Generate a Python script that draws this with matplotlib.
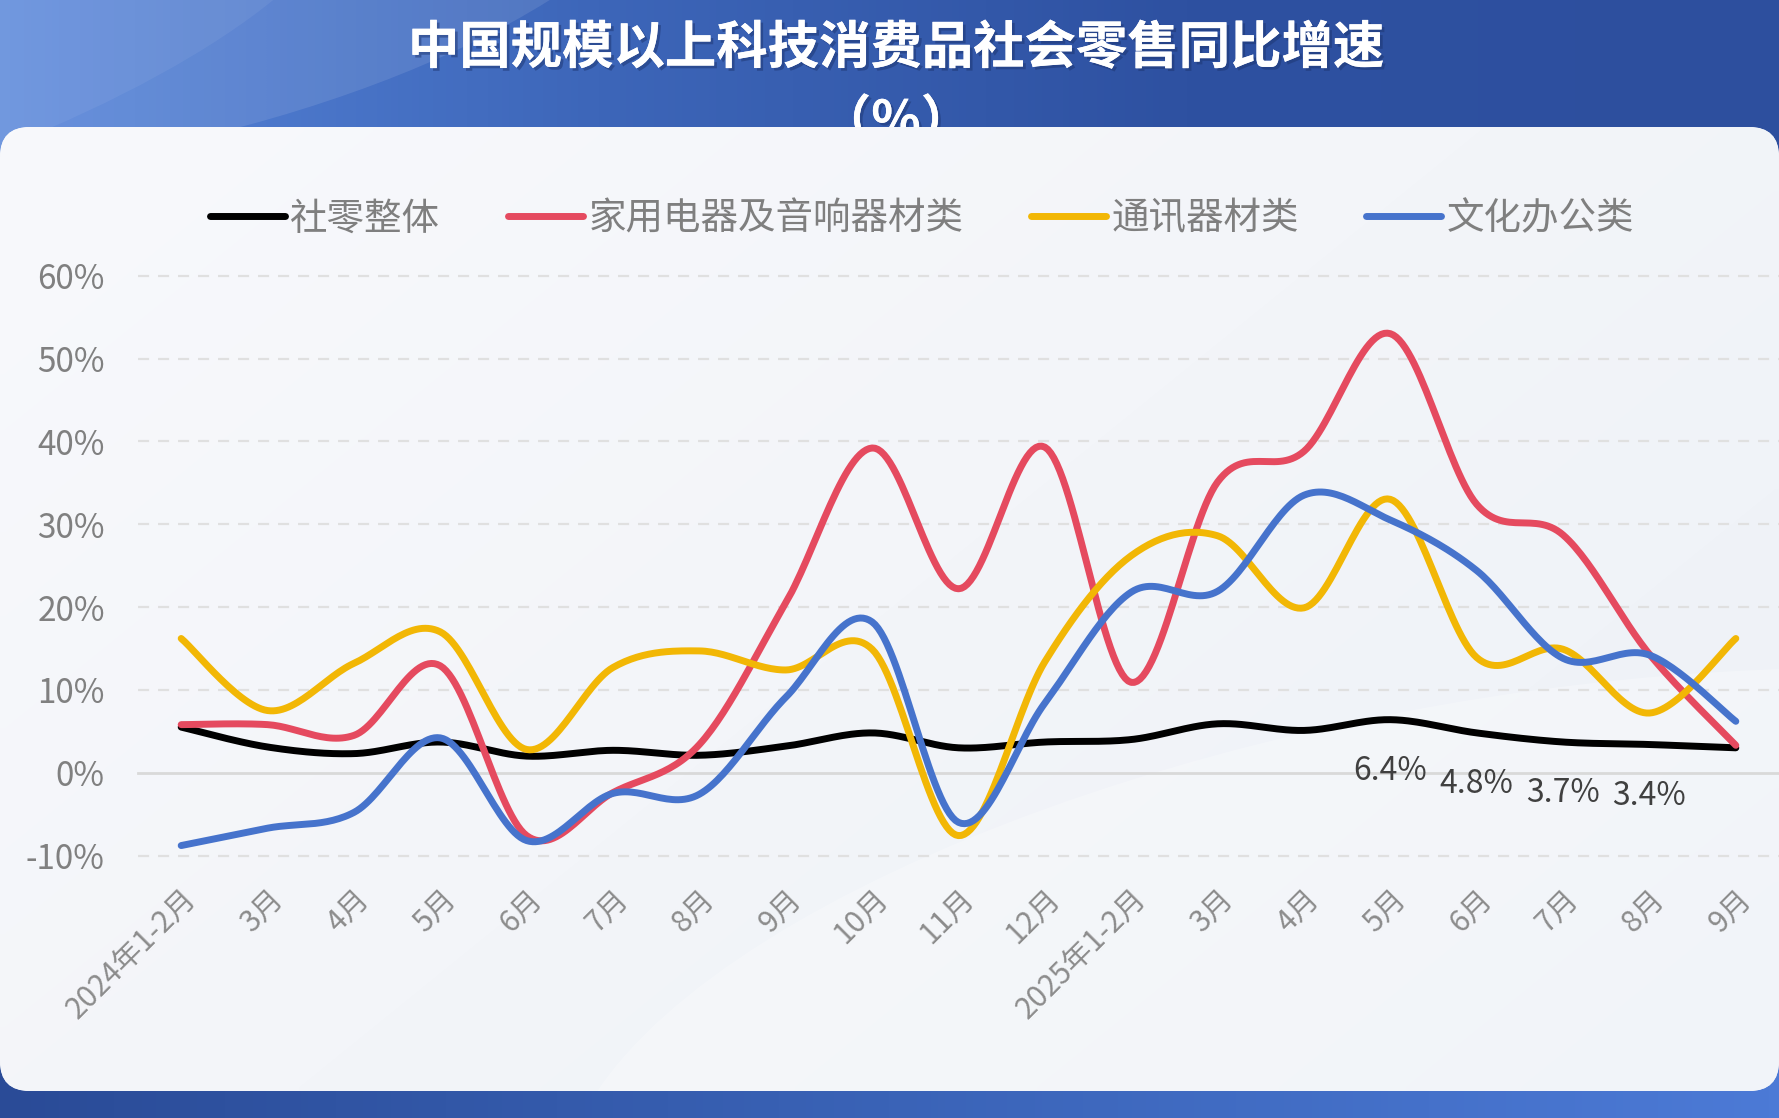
import numpy as np
import matplotlib.pyplot as plt
from matplotlib.patches import FancyBboxPatch, Ellipse
from matplotlib.colors import LinearSegmentedColormap
import matplotlib.patheffects as pe

plt.rcParams['font.family'] = ['Noto Sans CJK SC', 'DejaVu Sans']

# data (% yoy)
months = ['2024年1-2月', '3月', '4月', '5月', '6月', '7月', '8月', '9月', '10月',
          '11月', '12月', '2025年1-2月', '3月', '4月', '5月', '6月', '7月', '8月', '9月']
retail_total = [5.5, 3.1, 2.3, 3.7, 2.0, 2.7, 2.1, 3.2, 4.8, 3.0, 3.7,
                4.0, 5.9, 5.1, 6.4, 4.8, 3.7, 3.4, 3.0]
appliances = [5.8, 5.8, 4.5, 12.9, -7.6, -2.4, 3.4, 20.5, 39.2, 22.2, 39.3,
              10.9, 35.1, 38.8, 53.0, 32.4, 28.7, 14.3, 3.3]
telecom = [16.2, 7.5, 13.2, 17.0, 2.8, 12.7, 14.7, 12.4, 14.9, -7.6, 13.4,
           26.2, 28.6, 19.9, 33.0, 13.9, 14.9, 7.2, 16.2]
office = [-8.8, -6.7, -4.8, 4.2, -8.2, -2.5, -2.6, 9.1, 18.2, -6.0, 8.4,
          21.8, 21.9, 33.5, 30.5, 24.4, 13.8, 14.2, 6.2]
series_names = ['社零整体', '家用电器及音响器材类', '通讯器材类', '文化办公类']
series_colors = ['#000000', '#e54a5f', '#f2b705', '#4673cc']
labeled = [14, 15, 16, 17]  # points of 社零整体 that carry a value label

title = '中国规模以上科技消费品社会零售同比增速'
subtitle = '（%）'


def smooth(y, n=30):
    """Excel-like smoothed line (Catmull-Rom bezier)."""
    x = np.arange(len(y), dtype=float)
    y = np.asarray(y, dtype=float)
    P = np.column_stack([x, y])
    out = []
    t = np.linspace(0, 1, n)[:, None]
    for i in range(len(P) - 1):
        p0 = P[i - 1] if i > 0 else P[i]
        p3 = P[i + 2] if i + 2 < len(P) else P[i + 1]
        c1 = P[i] + (P[i + 1] - p0) / 6
        c2 = P[i + 1] - (p3 - P[i]) / 6
        seg = ((1 - t) ** 3) * P[i] + 3 * ((1 - t) ** 2) * t * c1 \
            + 3 * (1 - t) * t ** 2 * c2 + t ** 3 * P[i + 1]
        out.append(seg if i == 0 else seg[1:])
    out = np.vstack(out)
    return out[:, 0], out[:, 1]


W, H = 1779, 1118
fig = plt.figure(figsize=(W / 100, H / 100), dpi=100)

# background layer in pixel coordinates
bg = fig.add_axes([0, 0, 1, 1], zorder=-5)
bg.axis('off')


def hgrad(colors, x0, x1, y0, y1, z, clip=None):
    cmap = LinearSegmentedColormap.from_list('g', colors)
    g = np.linspace(0, 1, 256).reshape(1, -1)
    im = bg.imshow(g, cmap=cmap, extent=(x0, x1, y1, y0), aspect='auto',
                   zorder=z, interpolation='bilinear')
    if clip is not None:
        im.set_clip_path(clip)
    return im


# header
hgrad(['#5886da', '#3d66b9', '#2e51a1', '#2d4f9e'], 0, W, 0, 300, 0)
bg.add_patch(Ellipse((120, -60), 1150, 420, angle=-12, color='white', alpha=0.10, zorder=0.5, lw=0))
bg.add_patch(Ellipse((-80, 40), 900, 260, angle=-20, color='white', alpha=0.06, zorder=0.5, lw=0))

shadow = [pe.withSimplePatchShadow(offset=(2, -2), shadow_rgbFace='#1d3570', alpha=0.5), pe.Normal()]
bg.text(896, 48, title, color='white', fontsize=37, fontweight='bold',
        ha='center', va='center', zorder=1, path_effects=shadow)
bg.text(896, 122, subtitle, color='white', fontsize=37, fontweight='bold',
        ha='center', va='center', zorder=1, path_effects=shadow)

# bottom bar
hgrad(['#2a4b97', '#3a63b7', '#4c7ad6'], 0, W, 1030, H, 1.5)

# card
card = FancyBboxPatch((0, 127), W, 964, boxstyle='round,pad=0,rounding_size=30',
                      fc='#f4f6fa', ec='none', zorder=2)
bg.add_patch(card)
gx, gy = np.meshgrid(np.linspace(0, 1, 200), np.linspace(0, 1, 120))
grad = 0.6 * gx + 0.4 * gy
card_cmap = LinearSegmentedColormap.from_list('c', ['#f8f9fc', '#f3f5f9', '#edf1f7'])
im = bg.imshow(grad, cmap=card_cmap, extent=(0, W, 1091, 127), aspect='auto',
               zorder=2.1, interpolation='bilinear')
im.set_clip_path(card)
bg.add_patch(Ellipse((1500, 1050), 1900, 700, angle=-10, color='white', alpha=0.25, zorder=2.2, lw=0,
                     clip_path=card))
bg.set_xlim(0, W)
bg.set_ylim(H, 0)

# main chart
left, right, top, bottom = 138, W, 275.7, 855.5
ax = fig.add_axes([left / W, 1 - bottom / H, (right - left) / W, (bottom - top) / H])
ax.patch.set_alpha(0)
ax.set_xlim(-0.5, 18.5)
ax.set_ylim(-10, 60)
for s in ax.spines.values():
    s.set_visible(False)

for v in range(-10, 70, 10):
    if v == 0:
        ax.axhline(v, color='#d9d9d9', lw=2, zorder=1, clip_on=False)
    else:
        ax.axhline(v, color='#e0e0e0', lw=1.6, ls=(0, (5, 4)), zorder=1, clip_on=False)

handles = []
for vals, name, col in zip([retail_total, appliances, telecom, office], series_names, series_colors):
    sx, sy = smooth(vals)
    h, = ax.plot(sx, sy, color=col, lw=5, label=name, solid_capstyle='round',
                 solid_joinstyle='round', zorder=3, clip_on=False)
    handles.append(h)

for i in labeled:
    ax.annotate(f'{retail_total[i]:.1f}%', (i, retail_total[i]), xytext=(0, -37),
                textcoords='offset points', ha='center', va='center',
                fontsize=23, color='#404040', zorder=4)

ax.set_yticks(range(-10, 70, 10))
ax.set_yticklabels([f'{v}%' for v in range(-10, 70, 10)], fontsize=24, color='#808080')
ax.set_xticks(range(len(months)))
ax.set_xticklabels(months, fontsize=21.5, color='#8c8c8c', rotation=45,
                   ha='right', rotation_mode='anchor')
ax.tick_params(axis='both', length=0)
ax.tick_params(axis='y', pad=24)
ax.tick_params(axis='x', pad=20)

leg = ax.legend(handles=handles, loc='center', bbox_to_anchor=(922 / W, 1 - 219 / H),
                bbox_transform=fig.transFigure, ncol=4, frameon=False, fontsize=27,
                handlelength=2.0, handletextpad=0.15, columnspacing=1.8)
for t in leg.get_texts():
    t.set_color('#7f7f7f')

fig.savefig('out.png', dpi=100)
